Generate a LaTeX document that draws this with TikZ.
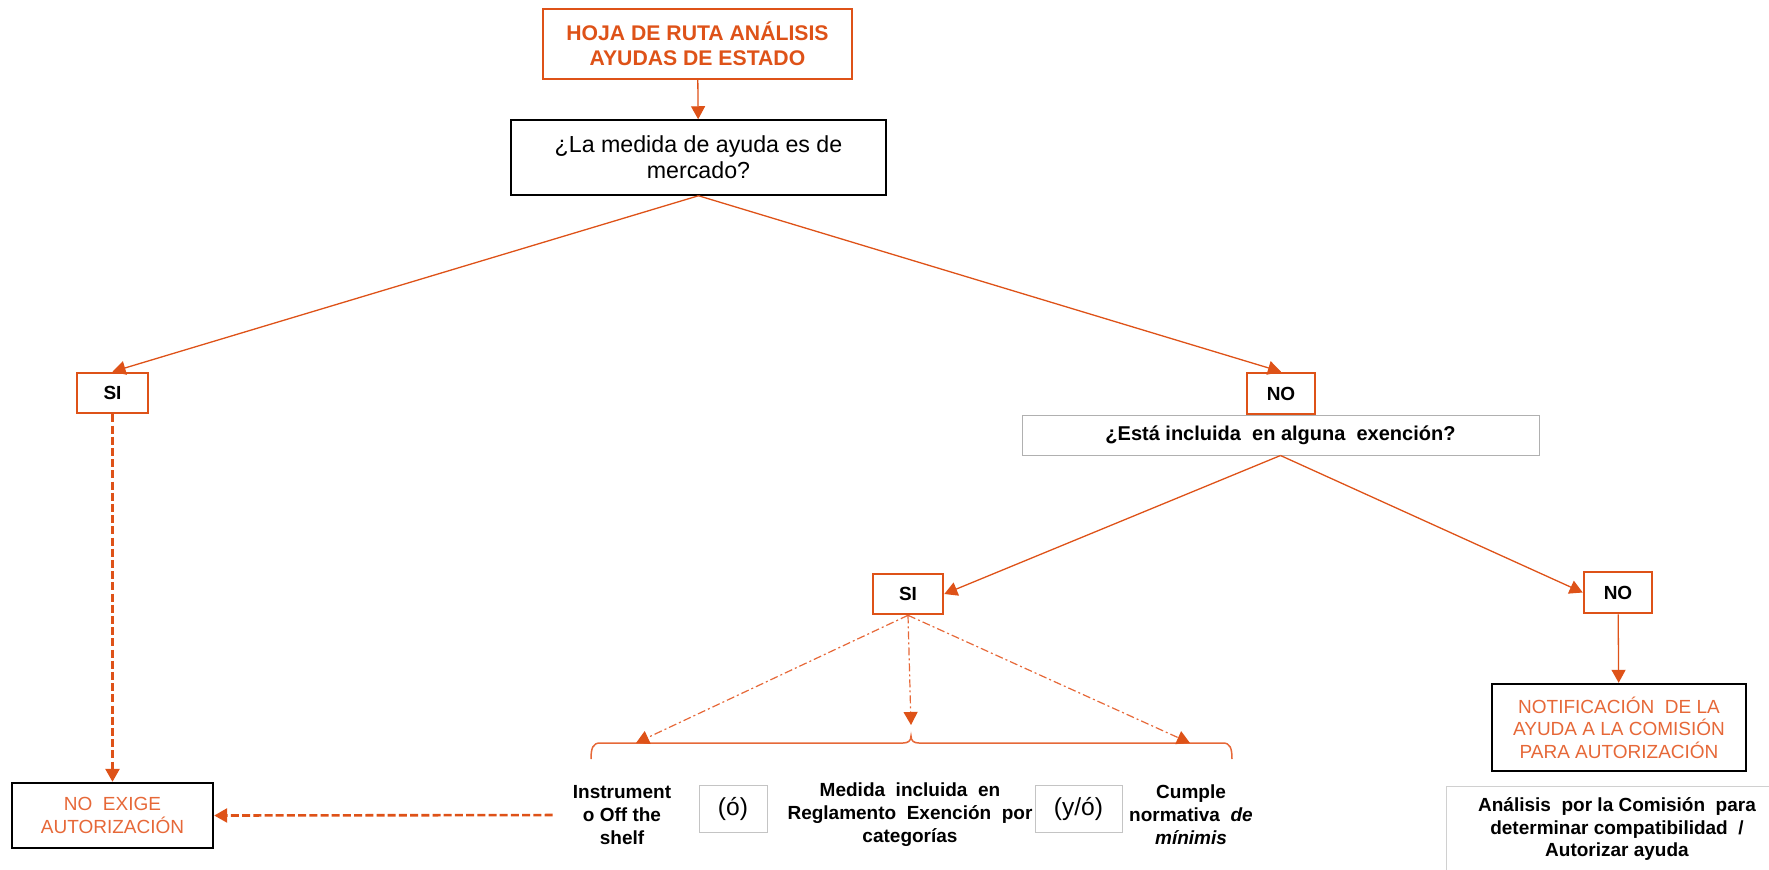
\documentclass[tikz,border=0pt]{standalone}
\usepackage{fontspec}
\setmainfont{Liberation Sans}
\usepackage{xcolor}
\usetikzlibrary{arrows.meta,positioning,calc}
\definecolor{ruta}{RGB}{222,82,24}
\definecolor{rutaclaro}{RGB}{230,104,56}
\definecolor{gris}{RGB}{196,196,196}

\begin{document}
\begin{tikzpicture}[x=0.5pt,y=-0.5pt,
    every node/.style={align=center,inner sep=0pt},
    negrita/.style={font=\fontsize{9.5}{11.5}\selectfont\bfseries},
    cajaroja/.style={draw=ruta,line width=1.3pt,negrita,minimum width=34pt,minimum height=20pt},
    cajanegra/.style={draw=black,line width=1.2pt,text=rutaclaro,font=\fontsize{9.5}{11.3}\selectfont},
    cajagris/.style={draw=gris,line width=0.5pt},
    punta/.style={-{Triangle[length=6.5pt,width=7pt,color=ruta]}},
    flecha/.style={draw=ruta,line width=0.65pt,punta},
    trazos/.style={draw=ruta,line width=1.3pt,dash pattern=on 4pt off 1.6pt,punta},
    puntos/.style={draw=rutaclaro,line width=0.6pt,dash pattern=on 4pt off 1.5pt on 1pt off 1.5pt,punta},
    llave/.style={draw=rutaclaro,line width=0.75pt}]
  \useasboundingbox (0,0) rectangle (1769,869);

  \node[draw=ruta,line width=0.6pt,text=ruta,minimum width=154.5pt,minimum height=35pt,
    font=\fontsize{10.6}{12.5}\selectfont\bfseries] (titulo) at (697.5,44)
    {HOJA DE RUTA ANÁLISIS\\AYUDAS DE ESTADO};
  \node[draw=black,line width=0.75pt,minimum width=187.5pt,minimum height=37.5pt,
    font=\fontsize{11.6}{13}\selectfont] (mercado) at (698.5,157.5)
    {¿La medida de ayuda es de\\mercado?};

  \node[cajaroja,minimum width=35.5pt] (siA) at (112.5,393) {SI};
  \node[cajaroja,minimum height=20.5pt] (noA) at (1281,393.5) {NO};
  \node[cajagris,draw=gris!90!black,negrita,font=\fontsize{10}{12}\selectfont\bfseries,
    minimum width=258.5pt,minimum height=20pt] (exencion) at (1280.5,435)
    {¿Está incluida \ en alguna \ exención?};
  \node[cajaroja,minimum width=35pt] (siB) at (908,594) {SI};
  \node[cajaroja,minimum height=20.5pt] (noB) at (1618,592.5) {NO};

  \node[cajanegra,minimum width=127pt,minimum height=43.5pt] (notificacion) at (1619,727.5)
    {NOTIFICACIÓN \ DE LA\\AYUDA A LA COMISIÓN\\PARA AUTORIZACIÓN};
  \node[cajagris,draw=gris!80,negrita,font=\fontsize{9.5}{11.3}\selectfont\bfseries,
    minimum width=171pt,minimum height=43pt] (analisis) at (1617,829)
    {Análisis \ por la Comisión \ para\\determinar compatibilidad \ /\\Autorizar ayuda};
  \node[cajanegra,minimum width=100.5pt,minimum height=32.5pt] (noexige) at (112.5,815.5)
    {NO \ EXIGE\\AUTORIZACIÓN};

  \node[negrita] (instrumento) at (622,815) {Instrument\\o Off the\\shelf};
  \node[cajagris,minimum width=34pt,minimum height=23.5pt,font=\fontsize{12.3}{14}\selectfont]
    (o) at (733,808.5) {(ó)};
  \node[negrita] (reglamento) at (910,815) {Medida \ incluida \ en\\Reglamento \ Exención \ por\\categorías};
  \node[cajagris,minimum width=43.5pt,minimum height=23.5pt,font=\fontsize{12.3}{14}\selectfont]
    (yo) at (1078.5,808.5) {(y/ó)};
  \node[negrita] (minimis) at (1191,815) {Cumple\\normativa \ \textit{de}\\\textit{mínimis}};

  \coordinate (llaveA) at (636,743);
  \coordinate (llaveB) at (911,725);
  \coordinate (llaveC) at (1190,743);
  \draw[llave] (591,759) .. controls (591,748) and (593,743) .. (600,743) -- (903,743)
    .. controls (908,743) and (911,741) .. (911,736)
    .. controls (911,741) and (914,743) .. (919,743) -- (1223,743)
    .. controls (1230,743) and (1232,748) .. (1232,759);

  \draw[flecha] (titulo) -- (mercado);
  \draw[flecha] (mercado.south) -- (siA.north);
  \draw[flecha] (mercado.south) -- (noA.north);
  \draw[flecha] (exencion.south) -- (siB.east);
  \draw[flecha] (exencion.south) -- (noB.west);
  \draw[flecha] (noB) -- (notificacion);
  \draw[trazos] (siA) -- (noexige);
  \draw[trazos,shorten <=10pt] (instrumento.west) -- (noexige.east);
  \draw[puntos] (siB.south) -- (llaveA);
  \draw[puntos] (siB.south) -- (llaveB);
  \draw[puntos] (siB.south) -- (llaveC);
\end{tikzpicture}
\end{document}
